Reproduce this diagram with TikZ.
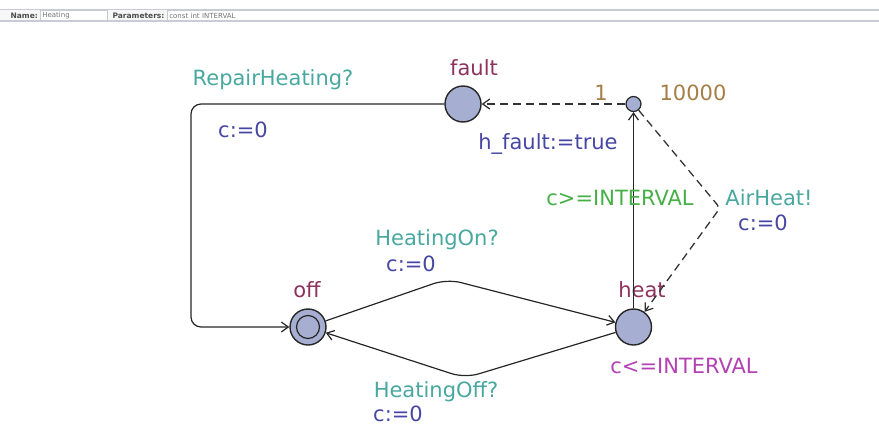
\documentclass[tikz,border=0pt]{standalone}
\usepackage{fontspec}
\setmainfont{DejaVu Sans}
\usetikzlibrary{arrows.meta, positioning}

\definecolor{locfill}{RGB}{166,174,210}
\definecolor{locname}{RGB}{140,50,95}
\definecolor{synccol}{RGB}{72,168,160}
\definecolor{updcol}{RGB}{70,70,165}
\definecolor{guardcol}{RGB}{70,175,70}
\definecolor{invcol}{RGB}{180,65,180}
\definecolor{probcol}{RGB}{165,125,70}
\definecolor{barline}{RGB}{200,203,212}

\begin{document}
\begin{tikzpicture}[x=1pt, y=-1pt, line width=1.2pt, >={Straight Barb[length=7pt,width=10pt]},
	loc/.style={circle, draw=black!85, fill=locfill, line width=1.4pt, minimum size=36pt, inner sep=0pt},
	branch/.style={circle, draw=black!85, fill=locfill, line width=1.2pt, minimum size=15pt, inner sep=0pt},
	lbl/.style={inner sep=1pt, font=\fontsize{21}{24}\selectfont},
	bar/.style={inner sep=0pt, text=black!70, font=\fontsize{7.5}{8}\selectfont},
	field/.style={draw=barline, fill=white, line width=0.6pt, inner sep=1pt, anchor=west, minimum height=10pt, text=black!55, font=\fontsize{7}{8}\selectfont},
	dashedge/.style={->, black!80, line width=1.3pt, dash pattern=on 8pt off 5pt}]
	\useasboundingbox (0,0) rectangle (879,426);

	% header bar
	\fill[black!3] (0,9) rectangle (879,21);
	\draw[barline, line width=1pt] (0,9) -- (879,9);
	\draw[barline, line width=1.2pt] (0,21) -- (879,21);
	\node[bar, anchor=west] (lname) at (10,15.5) {\textbf{Name:}};
	\node[field, minimum width=67pt, text width=63pt] (fname) at (40,15.5) {Heating};
	\node[bar, anchor=west] (lparam) at (112,15.5) {\textbf{Parameters:}};
	\node[field, minimum width=712pt, text width=708pt] (fparam) at (167,15.5) {const int INTERVAL};

	% locations
	\node[loc]    (off)   at (308,327) {};
	\node[circle, draw=black!85, line width=1.2pt, minimum size=23pt] (offin) at (308,327) {};
	\node[loc]    (heat)  at (633.5,327) {};
	\node[loc]    (fault) at (463,104) {};
	\node[branch] (br)    at (633.5,104) {};

	\node[lbl, text=locname] (noff)   at (307,290) {off};
	\node[lbl, text=locname] (nheat)  at (642,290) {heat};
	\node[lbl, text=locname] (nfault) at (474,68)  {fault};
	\node[lbl, text=invcol]  (iheat)  at (684,366) {c<=INTERVAL};

	% bends
	\coordinate (c1) at (191,104);
	\coordinate (c2) at (191,327);
	\coordinate (c3) at (447,279);
	\coordinate (c4) at (465,378);
	\coordinate (c5) at (720,208);

	\draw[->, black!85, rounded corners=10pt] (fault) -- (c1) -- (c2) -- (off);
	\draw[->, black!85, rounded corners=14pt] (off) -- (c3) -- (heat);
	\draw[->, black!85, rounded corners=14pt] (heat) -- (c4) -- (off);
	\draw[->, black!85] (heat) -- (br);
	\draw[dashedge] (br) -- (fault);
	\draw[dashedge, rounded corners=4pt] (br) -- (c5) -- (heat);

	% edge labels
	\node[lbl, text=synccol]  (srep)  at (273,80)  {RepairHeating?};
	\node[lbl, text=updcol]   (urep)  at (243,130) {c:=0};
	\node[lbl, text=synccol]  (son)   at (437,240) {HeatingOn?};
	\node[lbl, text=updcol]   (uon)   at (411,264) {c:=0};
	\node[lbl, text=synccol]  (soff)  at (436,392) {HeatingOff?};
	\node[lbl, text=updcol]   (uoff)  at (398,414) {c:=0};
	\node[lbl, text=guardcol] (gflt)  at (620,198) {c>=INTERVAL};
	\node[lbl, text=updcol]   (uflt)  at (548,144) {h\_fault:=true};
	\node[lbl, text=probcol]  (pflt)  at (601,93)  {1};
	\node[lbl, text=probcol]  (pair)  at (693,93)  {10000};
	\node[lbl, text=synccol]  (sair)  at (769,198) {AirHeat!};
	\node[lbl, text=updcol]   (uair)  at (763,223) {c:=0};
\end{tikzpicture}
\end{document}
